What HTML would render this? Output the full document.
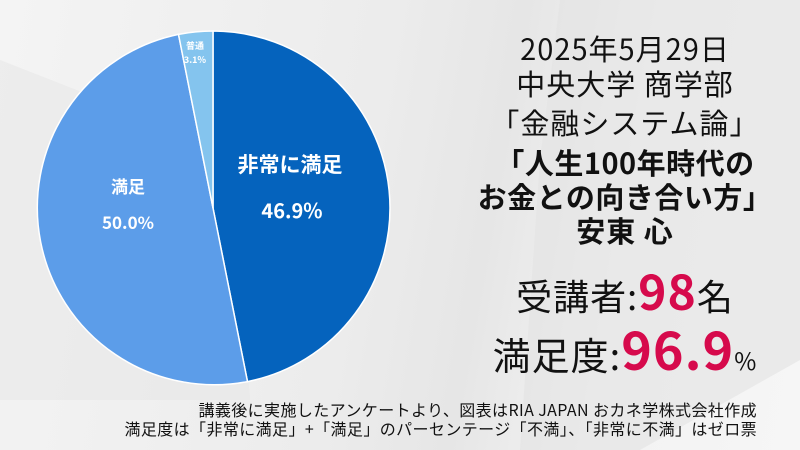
<!DOCTYPE html>
<html><head><meta charset="utf-8"><style>
body{margin:0;width:800px;height:450px;overflow:hidden;font-family:"Noto Sans CJK JP","Liberation Sans",sans-serif;}
#bg{position:absolute;left:0;top:0;width:800px;height:450px;background:linear-gradient(100deg,#f4f4f4 0%,#ececec 45%,#e6e6e6 60%,#f2f2f2 75%,#f6f6f6 100%);}
.t{position:absolute;left:445px;width:360px;text-align:center;color:#111;white-space:nowrap;letter-spacing:1px;}
.r{color:#d60a4c;font-weight:bold;}
.f{position:absolute;right:43px;text-align:right;font-size:16px;line-height:18px;color:#111;white-space:nowrap;letter-spacing:0.4px;}
</style></head><body>
<div id="bg"></div>
<svg style="position:absolute;left:0;top:0" width="800" height="450">
<polygon points="560,0 800,0 800,360 640,450 520,450 540,160" fill="#e2e2e2" opacity="0.6"/>
<polygon points="0,60 230,150 250,400 0,400" fill="#e6e6e6" opacity="0.5"/>
<g stroke="#fff" stroke-width="1.5">
<path d="M213,208 L213,31 A177,177 0 0 1 247.5,381.6 Z" fill="#0563bd"/>
<path d="M213,208 L247.5,381.6 A177,177 0 0 1 178.5,34.4 Z" fill="#5c9de9"/>
<path d="M213,208 L178.5,34.4 A177,177 0 0 1 213,31 Z" fill="#84c4ee"/>
</g>
<g font-family="Noto Sans CJK JP,Liberation Sans,sans-serif" fill="#fff" font-weight="bold" text-anchor="middle">
<text x="195" y="49" font-size="9">普通</text>
<text x="195" y="63" font-size="9">3.1%</text>
<text x="290" y="172" font-size="21">非常に満足</text>
<text x="292" y="218" font-size="20">46.9%</text>
<text x="128" y="193" font-size="17">満足</text>
<text x="128" y="229" font-size="17">50.0%</text>
</g>
</svg>
<div class="t" style="top:31px;font-size:29px;line-height:34px">2025年5月29日</div>
<div class="t" style="top:66px;font-size:29px;line-height:34px">中央大学 商学部</div>
<div class="t" style="top:105px;font-size:29px;line-height:34px">「金融システム論」</div>
<div class="t" style="top:145px;font-size:29px;line-height:34px;font-weight:bold;letter-spacing:0.5px">「人生100年時代の</div>
<div class="t" style="top:179px;font-size:29px;line-height:34px;font-weight:bold;letter-spacing:0.5px">お金との向き合い方」</div>
<div class="t" style="top:213px;font-size:29px;line-height:34px;font-weight:bold">安東 心</div>
<div class="t" style="top:266px;font-size:36px;line-height:46px">受講者:<span class="r" style="font-size:48px">98</span>名</div>
<div class="t" style="top:322px;font-size:38px;line-height:52px">満足度:<span class="r" style="font-size:52px">96.9</span><span style="font-size:24px">%</span></div>
<div class="f" style="top:400px">講義後に実施したアンケートより、図表はRIA JAPAN おカネ学株式会社作成</div>
<div class="f" style="top:419px">満足度は「非常に満足」+「満足」のパーセンテージ「不満」、「非常に不満」はゼロ票</div>
</body></html>
